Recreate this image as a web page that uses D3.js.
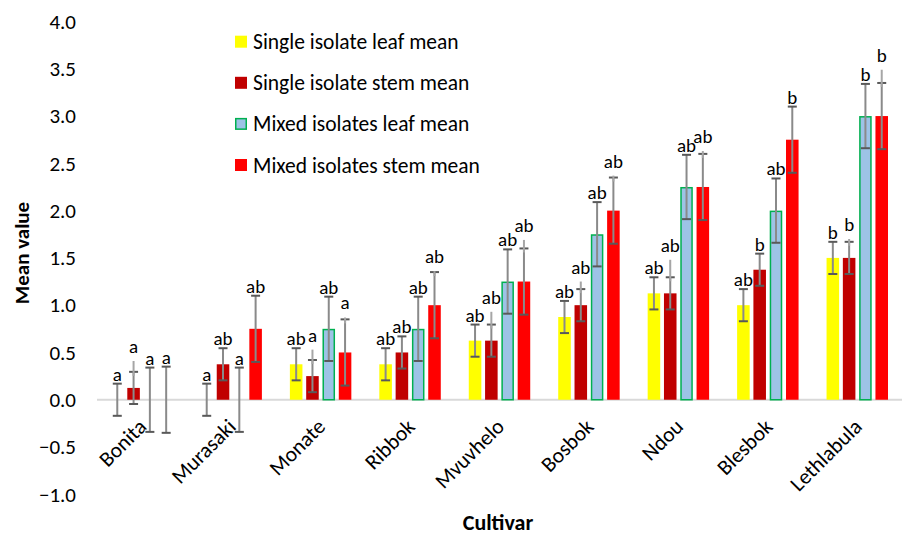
<!DOCTYPE html>
<html>
<head>
<meta charset="utf-8">
<script src="https://cdn.jsdelivr.net/npm/d3@7"></script>
<style>
  body { margin: 0; background: #fff; }
  svg text { font-family: Carlito, Lato, "Open Sans", sans-serif; fill: #000; }
</style>
</head>
<body>
<div id="main"></div>
<script>
// categories and series
const cultivars = ['Bonita', 'Murasaki', 'Monate', 'Ribbok', 'Mvuvhelo', 'Bosbok', 'Ndou', 'Blesbok', 'Lethlabula'];
const seriesNames = ['Single isolate leaf mean', 'Single isolate stem mean', 'Mixed isolates leaf mean', 'Mixed isolates stem mean'];
const singleLeaf = [0, 0, 0.375, 0.375, 0.625, 0.875, 1.125, 1.0, 1.5];
const singleStem = [0.125, 0.375, 0.25, 0.5, 0.625, 1.0, 1.125, 1.375, 1.5];
const mixedLeaf = [0, 0, 0.75, 0.75, 1.25, 1.75, 2.25, 2.0, 3.0];
const mixedStem = [0, 0.75, 0.5, 1.0, 1.25, 2.0, 2.25, 2.75, 3.0];
// error bar half widths
const singleLeafErr = [0.17, 0.17, 0.17, 0.17, 0.17, 0.17, 0.17, 0.17, 0.17];
const singleStemErr = [0.17, 0.17, 0.17, 0.17, 0.17, 0.17, 0.17, 0.17, 0.17];
const mixedLeafErr = [0.34, 0.34, 0.34, 0.34, 0.34, 0.34, 0.34, 0.34, 0.34];
const mixedStemErr = [0.35, 0.35, 0.35, 0.35, 0.35, 0.35, 0.35, 0.35, 0.35];
// second (lighter) error stem that overshoots the cap on some bars
const singleStemReach = [0.41, null, 0.53, null, 0.93, 1.25, 1.48, null, 1.70];
const mixedStemReach = [null, null, 0.87, 1.36, 1.69, 2.37, 2.63, null, 3.49];
// significance letters
const singleLeafSig = ['a', 'a', 'ab', 'ab', 'ab', 'ab', 'ab', 'ab', 'b'];
const singleStemSig = ['a', 'ab', 'a', 'ab', 'ab', 'ab', 'ab', 'b', 'b'];
const mixedLeafSig = ['a', 'a', 'ab', 'ab', 'ab', 'ab', 'ab', 'ab', 'b'];
const mixedStemSig = ['a', 'ab', 'a', 'ab', 'ab', 'ab', 'ab', 'b', 'b'];
const yTicks = [-1, -0.5, 0, 0.5, 1, 1.5, 2, 2.5, 3, 3.5, 4];

const width = 902;
const height = 536;
const fills = ['#ffff00', '#c00000', '#9dc3e6', '#ff0000'];
const strokes = ['none', 'none', '#00b050', 'none'];

// one table row per series
const series = [
  { values: singleLeaf, err: singleLeafErr, reach: cultivars.map(() => null), sig: singleLeafSig },
  { values: singleStem, err: singleStemErr, reach: singleStemReach, sig: singleStemSig },
  { values: mixedLeaf, err: mixedLeafErr, reach: cultivars.map(() => null), sig: mixedLeafSig },
  { values: mixedStem, err: mixedStemErr, reach: mixedStemReach, sig: mixedStemSig }
];
const bars = [];
series.forEach((s, si) => {
  cultivars.forEach((c, ci) => {
    bars.push({ cultivar: c, si, value: s.values[ci], err: s.err[ci], reach: s.reach[ci], sig: s.sig[ci] });
  });
});

const svg = d3.select('#main')
  .append('svg')
  .attr('width', width)
  .attr('height', height);

const x0 = d3.scaleBand().domain(cultivars).range([97, 902]);
const groupW = 65.2;
const x1 = d3.scaleBand().domain(d3.range(4)).range([0, groupW]).paddingInner(0.23).paddingOuter(0.115);
const y = d3.scaleLinear().domain([-1, 4]).range([494.3, 21.5]);
const barX = d => x0(d.cultivar) + (x0.bandwidth() - groupW) / 2 + x1(d.si);
const hasStroke = i => strokes[i] !== 'none';

// y tick labels, no axis line
const yAxis = svg.append('g')
  .attr('transform', 'translate(78,0)')
  .call(d3.axisLeft(y).tickValues(yTicks).tickFormat(d3.format('.1f')).tickSize(0).tickPadding(2));
yAxis.select('.domain').remove();
yAxis.selectAll('text')
  .style('font-family', 'Carlito, Lato, sans-serif')
  .attr('font-size', 21)
  .attr('fill', '#000');

// zero line
svg.append('line')
  .attr('x1', 97).attr('x2', 902)
  .attr('y1', y(0)).attr('y2', y(0))
  .attr('stroke', '#d9d9d9')
  .attr('stroke-width', 2);

// category labels rotated (drawn under the error bars, as in the original)
svg.append('g')
  .selectAll('text')
  .data(cultivars)
  .enter()
  .append('text')
  .attr('text-anchor', 'end')
  .attr('font-size', 21.5)
  .attr('transform', d => `translate(${x0(d) + x0.bandwidth() / 2 + 6},${428}) rotate(-45)`)
  .text(d => d);

// bars
svg.append('g')
  .selectAll('rect')
  .data(bars.filter(d => d.value > 0))
  .enter()
  .append('rect')
  .attr('x', d => barX(d) + (hasStroke(d.si) ? 0.75 : 0))
  .attr('y', d => y(d.value) + (hasStroke(d.si) ? 0.75 : 0))
  .attr('width', d => x1.bandwidth() - (hasStroke(d.si) ? 1.5 : 0))
  .attr('height', d => y(0) - y(d.value) - (hasStroke(d.si) ? 0.75 : 0))
  .attr('fill', d => fills[d.si])
  .attr('stroke', d => strokes[d.si])
  .attr('stroke-width', 1.5);

// error bars
const errG = svg.append('g').selectAll('g')
  .data(bars)
  .enter()
  .append('g')
  .attr('transform', d => `translate(${barX(d) + x1.bandwidth() / 2},0)`);
errG.append('line')
  .attr('y1', d => y(d.value + d.err))
  .attr('y2', d => y(d.value - d.err))
  .attr('stroke', '#8a8a8a')
  .attr('stroke-width', 2);
errG.selectAll('.cap')
  .data(d => [d.value + d.err, d.value - d.err])
  .enter()
  .append('line')
  .attr('x1', -4.5).attr('x2', 4.5)
  .attr('y1', v => y(v)).attr('y2', v => y(v))
  .attr('stroke', '#595959')
  .attr('stroke-width', 2);
errG.filter(d => d.reach !== null)
  .append('line')
  .attr('y1', d => y(d.reach))
  .attr('y2', d => y(d.value + d.err) + 4)
  .attr('stroke', '#a6a6a6')
  .attr('stroke-width', 2);

// significance letters: just above the cap, or a little higher over a long stem
errG.append('text')
  .attr('text-anchor', 'middle')
  .attr('font-size', 19)
  .attr('y', d => (d.reach === null ? y(d.value + d.err) - 3 : Math.min(y(d.value + d.err) - 3, y(d.reach) - 8)))
  .text(d => d.sig);

// axis titles
svg.append('text')
  .attr('transform', 'translate(29,253) rotate(-90)')
  .attr('text-anchor', 'middle')
  .attr('font-size', 21)
  .attr('font-weight', 'bold')
  .text('Mean value');
svg.append('text')
  .attr('x', 498)
  .attr('y', 530)
  .attr('text-anchor', 'middle')
  .attr('font-size', 22)
  .attr('font-weight', 'bold')
  .text('Cultivar');

// legend
const legend = svg.append('g').selectAll('g')
  .data(seriesNames)
  .enter()
  .append('g')
  .attr('transform', (d, i) => `translate(235,${41.7 + i * 41.1})`);
legend.append('rect')
  .attr('x', (d, i) => hasStroke(i) ? 0.75 : 0)
  .attr('y', (d, i) => hasStroke(i) ? -5.25 : -6)
  .attr('width', (d, i) => hasStroke(i) ? 10.5 : 12)
  .attr('height', (d, i) => hasStroke(i) ? 10.5 : 12)
  .attr('fill', (d, i) => fills[i])
  .attr('stroke', (d, i) => strokes[i])
  .attr('stroke-width', 1.5);
legend.append('text')
  .attr('x', 18)
  .attr('y', 7.5)
  .attr('font-size', 21.5)
  .text(d => d);
</script>
</body>
</html>
